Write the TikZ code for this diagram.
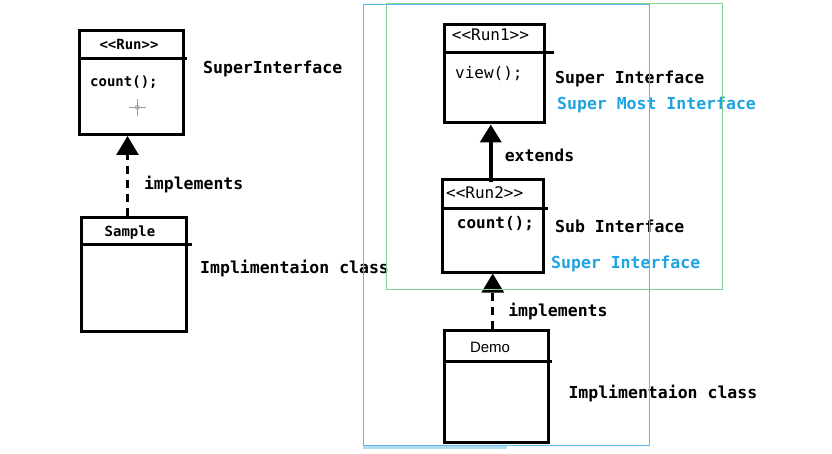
\documentclass[tikz,border=0pt]{standalone}
\usepackage{fontspec}
\setmonofont{DejaVu Sans Mono}
\setsansfont{Liberation Sans}
\usetikzlibrary{arrows.meta}

\definecolor{framecyan}{HTML}{5BB8E8}
\definecolor{framegreen}{HTML}{86D39A}
\definecolor{notecyan}{HTML}{1EA3E4}
\definecolor{bandcyan}{HTML}{ADDDF0}

\tikzset{
  umlbox/.style 2 args={draw, line width=3pt, anchor=north west, inner sep=0pt,
    minimum width=#1pt, minimum height=#2pt},
  divider/.style={line width=3pt},
  boxtext/.style={anchor=west, inner sep=0pt, font=\ttfamily\fontsize{16}{18}\selectfont},
  smalltext/.style={inner sep=0pt, font=\ttfamily\bfseries\fontsize{14}{16}\selectfont},
  lbl/.style={anchor=west, inner sep=0pt, font=\ttfamily\bfseries\fontsize{16.5}{18}\selectfont},
  note/.style={lbl, text=notecyan},
  implarrow/.style={line width=3pt, dash pattern=on 8pt off 6pt,
    -{Triangle[width=22pt,length=19pt]}},
  extarrow/.style={line width=4pt, -{Triangle[width=21pt,length=18pt]}},
  pointer/.style={draw=gray!75, line width=0.8pt},
}

\begin{document}
\begin{tikzpicture}[x=1pt, y=-1pt]
  \useasboundingbox (0,0) rectangle (832,454);

  % left side: Run <- Sample
  \node[umlbox={104}{104}] (run) at (78,29) {};
  \draw[divider] (run.north west) ++(0,29.3) -- ++(108.7,0);
  \node[smalltext] (runname) at (129,44) {<{}<Run>{}>};
  \node[smalltext, anchor=west] (runop) at (90,82) {count();};
  \draw[pointer] (137.3,99) -- (137.3,116) (128.5,107.3) -- (146,107.3);
  \draw[pointer] (137.3,107.3) circle (2);
  \node[lbl] (runrole) at (203,69) {SuperInterface};

  \node[umlbox={105}{114}] (sample) at (80,216) {};
  \draw[divider] (sample.north west) ++(0,29) -- ++(112,0);
  \node[smalltext] (samplename) at (130,233) {Sample};
  \node[lbl] (samplerole) at (200,269) {Implimentaion class};

  \draw[implarrow] ([xshift=-6.5pt]sample.north)
    -- node[lbl, pos=0.39, right=15pt] (impl1) {implements}
    ([xshift=-6.5pt]sample.north |- run.south);

  % right side: Run1 <- Run2 <- Demo
  \node[umlbox={99.5}{98.5}] (run1) at (443,23) {};
  \draw[divider] (run1.north west) ++(0,29.7) -- ++(111,0);
  \node[boxtext] (run1name) at (451.7,35) {<{}<Run1>{}>};
  \node[boxtext] (run1op) at (455,74) {view();};
  \node[lbl] (run1role) at (555,79) {Super Interface};
  \node[note] (run1note) at (557,105) {Super Most Interface};

  \node[umlbox={101.5}{92}] (run2) at (440.5,178.5) {};
  \draw[divider] (run2.north west) ++(0,29.8) -- ++(107.2,0);
  \node[boxtext] (run2name) at (446,192.7) {<{}<Run2>{}>};
  \node[boxtext, font=\ttfamily\bfseries\fontsize{16}{18}\selectfont] (run2op) at (456.7,224) {count();};
  \node[lbl] (run2role) at (555,226.7) {Sub Interface};
  \node[note] (run2note) at (551,264) {Super Interface};

  \draw[extarrow] ([xshift=-2pt,yshift=-4pt]run2.north)
    -- node[lbl, pos=0.47, right=12pt] (ext) {extends}
    ([xshift=-2pt]run2.north |- run1.south);

  \node[umlbox={103.5}{111.5}] (demo) at (443,329) {};
  \draw[divider] (demo.north west) ++(0,32.7) -- ++(108.7,0);
  \node[inner sep=0pt, font=\sffamily\fontsize{15}{17}\selectfont] (demoname) at (490,347.3) {Demo};
  \node[lbl] (demorole) at (568.3,393.3) {Implimentaion class};

  \draw[implarrow] ([xshift=-3.5pt]demo.north)
    -- node[lbl, pos=0.31, right=14pt] (impl2) {implements}
    ([xshift=-3.5pt]demo.north |- run2.south);

  % frames
  \draw[framecyan, line width=1pt] (363.3,4.7) rectangle (649.3,445.7);
  \fill[bandcyan] (363.3,446.2) rectangle (506.7,449);
  \draw[framegreen, line width=1pt] (386,4) rectangle (722.7,289.3);
\end{tikzpicture}
\end{document}
